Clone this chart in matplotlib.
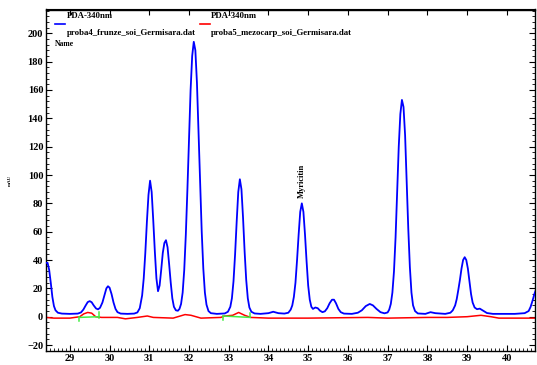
import numpy as np
import matplotlib
matplotlib.use('Agg')
import matplotlib.pyplot as plt
from matplotlib.ticker import MultipleLocator

plt.rcParams['font.family'] = ['Liberation Serif', 'DejaVu Serif']
plt.rcParams['font.weight'] = 'bold'

# blue trace: proba4_frunze_soi_Germisara.dat (PDA-340nm)
t_blue = [28.40, 28.44, 28.48, 28.52, 28.56, 28.60, 28.64, 28.70, 28.80,
          29.00, 29.20, 29.28, 29.34, 29.40, 29.45, 29.50, 29.55, 29.60, 29.66, 29.71, 29.76, 29.82, 29.87,
          29.92, 29.96, 30.00, 30.05, 30.10, 30.15, 30.20, 30.28, 30.45, 30.62,
          30.70, 30.76, 30.82, 30.86, 30.90, 30.94, 30.98, 31.02, 31.06, 31.10, 31.14, 31.18, 31.22, 31.26,
          31.30, 31.34, 31.38, 31.42, 31.46, 31.50, 31.54, 31.58, 31.62, 31.67, 31.72,
          31.76, 31.80, 31.84, 31.88, 31.92, 31.96, 32.00, 32.04, 32.08, 32.12, 32.16, 32.20, 32.24, 32.28,
          32.32, 32.36, 32.40, 32.44, 32.49, 32.55, 32.70,
          32.90, 32.98, 33.04, 33.08, 33.12, 33.16, 33.20, 33.24, 33.28, 33.32, 33.36, 33.40, 33.44, 33.48,
          33.52, 33.57, 33.65, 33.80, 34.00, 34.12, 34.25, 34.40,
          34.50, 34.56, 34.60, 34.64, 34.68, 34.72, 34.76, 34.80, 34.84, 34.88, 34.92, 34.96, 35.00, 35.04,
          35.08, 35.12, 35.18, 35.24, 35.30, 35.36, 35.42, 35.48, 35.54, 35.60, 35.65, 35.70, 35.76, 35.82,
          35.90, 36.10, 36.25, 36.35, 36.45, 36.55, 36.63, 36.72, 36.82, 36.92, 37.00,
          37.04, 37.08, 37.12, 37.16, 37.20, 37.24, 37.28, 37.32, 37.36, 37.40, 37.44, 37.48, 37.52, 37.56,
          37.60, 37.64, 37.69, 37.76, 37.95, 38.08, 38.20, 38.45,
          38.58, 38.64, 38.70, 38.74, 38.78, 38.82, 38.86, 38.90, 38.94, 38.98, 39.02, 39.06, 39.10, 39.14,
          39.19, 39.25, 39.32, 39.40, 39.50, 39.65, 40.20, 40.45, 40.55, 40.60, 40.65, 40.70, 40.72]
v_blue = [38, 38, 33, 24, 14, 7.5, 4.5, 2.8, 2.2,
          2, 2.2, 3, 5, 8, 10.3, 11, 10.2, 8, 5.8, 5.2, 6.3, 10, 15,
          20, 21.5, 20.5, 16, 10, 5.5, 3.2, 2.2, 2, 2.2,
          3, 6, 15, 27, 45, 67, 86, 96, 88, 68, 46, 27, 18, 22,
          33, 45, 52, 54, 49, 37, 24, 13, 7, 4.5, 4.2,
          5.5, 9, 17, 33, 58, 90, 125, 160, 184, 194, 188, 165, 130, 93,
          60, 34, 17, 8.5, 4, 2.5, 2,
          2.3, 3.5, 7, 13, 25, 44, 67, 88, 97, 90, 70, 46, 26, 13,
          6.5, 3.5, 2.3, 2, 2.5, 3.5, 2.5, 2.2,
          2.8, 5, 8, 14, 24, 40, 58, 74, 80, 74, 58, 39, 22, 12,
          7, 5.5, 6.5, 6, 4.2, 3.2, 3.8, 6, 9.5, 12, 12, 9.5, 5.5, 3.2,
          2.2, 2, 2.8, 4.5, 7.5, 9, 8, 5.5, 3.2, 2.4, 3,
          5, 9, 17, 32, 56, 88, 120, 143, 153, 148, 128, 96, 62, 35,
          17, 8, 4, 2.3, 2, 3.2, 2.5, 2,
          2.8, 4.5, 8, 12.5, 19, 26, 34, 40, 42, 40, 34, 25, 16, 10,
          6.5, 5.3, 5.7, 4.3, 2.6, 2, 2, 2.5, 4, 7, 11.5, 16.5, 18]

# red trace: proba5_mezocarp_soi_Germisara.dat (PDA-340nm)
t_red = [28.40, 28.6, 29.0, 29.25, 29.35, 29.45, 29.55, 29.65, 29.8, 30.2, 30.4, 30.7, 30.95, 31.1, 31.6,
         31.9, 32.05, 32.3, 32.8, 32.9, 33.1, 33.25, 33.4, 33.55, 34.0, 35.0, 36.5, 37.0, 38.0, 38.5,
         39.0, 39.35, 39.6, 39.8, 40.72]
v_red = [-0.5, -1, -1, 0, 2, 3, 2.5, 0, -0.5, -0.5, -1.5, -0.5, 0.5, -0.5, -1,
         1.5, 1, -1, -0.5, 0.5, 1, 3, 1, -0.5, -1, -1, -0.5, -1, -0.5, -0.5,
         0, 1, 0, -1, -1]

# integration baselines (start, end) and their end ticks
base_t0 = [29.23, 32.86]
base_t1 = [29.73, 33.54]
base_v0 = [-0.5, 0.5]
base_v1 = [0.0, -0.5]
tick0_lo = [-3, -2.3]
tick0_hi = [0, 0.5]
tick1_lo = [-1, -0.5]
tick1_hi = [3, 2.6]

BLUE = '#0000ff'; RED = '#ff0000'; GREEN = '#44ee44'

fig = plt.figure(figsize=(5.37, 3.65), dpi=100)
ax = fig.add_axes([46/537, 14/365, 489/537, 341.5/365])
ax.plot(t_red, v_red, color=RED, lw=1.1, zorder=2)
ax.plot(t_blue, v_blue, color=BLUE, lw=1.3, zorder=3)
for i in range(len(base_t0)):
    ax.plot([base_t0[i], base_t1[i]], [base_v0[i], base_v1[i]], color=GREEN, lw=1.1, zorder=4)
    ax.plot([base_t0[i], base_t0[i]], [tick0_lo[i], tick0_hi[i]], color=GREEN, lw=1.1, zorder=4)
    ax.plot([base_t1[i], base_t1[i]], [tick1_lo[i], tick1_hi[i]], color=GREEN, lw=1.1, zorder=4)

ax.text(34.83, 84, 'Myricitin', rotation=90, ha='center', va='bottom', fontsize=6, fontweight='bold')

ax.set_xlim(28.40, 40.71)
ax.set_ylim(-24.2, 216.8)
ax.xaxis.set_major_locator(MultipleLocator(1))
ax.xaxis.set_minor_locator(MultipleLocator(0.1))
ax.yaxis.set_major_locator(MultipleLocator(20))
ax.yaxis.set_minor_locator(MultipleLocator(4))
ax.tick_params(which='both', direction='in', labelsize=7.5, top=False, right=True, labelright=False)
ax.tick_params(which='major', length=4, width=0.8)
ax.tick_params(which='minor', length=2, width=0.6)
ax.tick_params(axis='x', pad=2)
ax.tick_params(axis='y', pad=2)
for lab in ax.get_xticklabels() + ax.get_yticklabels():
    lab.set_fontweight('bold')
secx = ax.secondary_xaxis('top')
secx.xaxis.set_major_locator(MultipleLocator(1))
secx.tick_params(direction='in', length=4, labeltop=False)
for sp in ax.spines.values():
    sp.set_linewidth(1.0)

# legend block drawn at the top of the plot
def fx(px): return px / 537
def fy(py): return 1 - py / 365
fig.text(fx(67), fy(16), 'PDA-340nm', fontsize=6.3, fontweight='bold', va='center')
fig.add_artist(plt.Line2D([fx(55), fx(65)], [fy(24), fy(24)], color=BLUE, lw=1.2))
fig.text(fx(67), fy(33), 'proba4_frunze_soi_Germisara.dat', fontsize=6.3, fontweight='bold', va='center')
fig.text(fx(55), fy(44), 'Name', fontsize=5.5, fontweight='bold', va='center')
fig.text(fx(211), fy(16), 'PDA-340nm', fontsize=6.3, fontweight='bold', va='center')
fig.add_artist(plt.Line2D([fx(200), fx(210)], [fy(24), fy(24)], color=RED, lw=1.2))
fig.text(fx(211), fy(33), 'proba5_mezocarp_soi_Germisara.dat', fontsize=6.3, fontweight='bold', va='center')
fig.text(fx(10), fy(180), 'mAU', fontsize=3.5, rotation=90, ha='center', va='center')

fig.savefig('out.png', dpi=100)
